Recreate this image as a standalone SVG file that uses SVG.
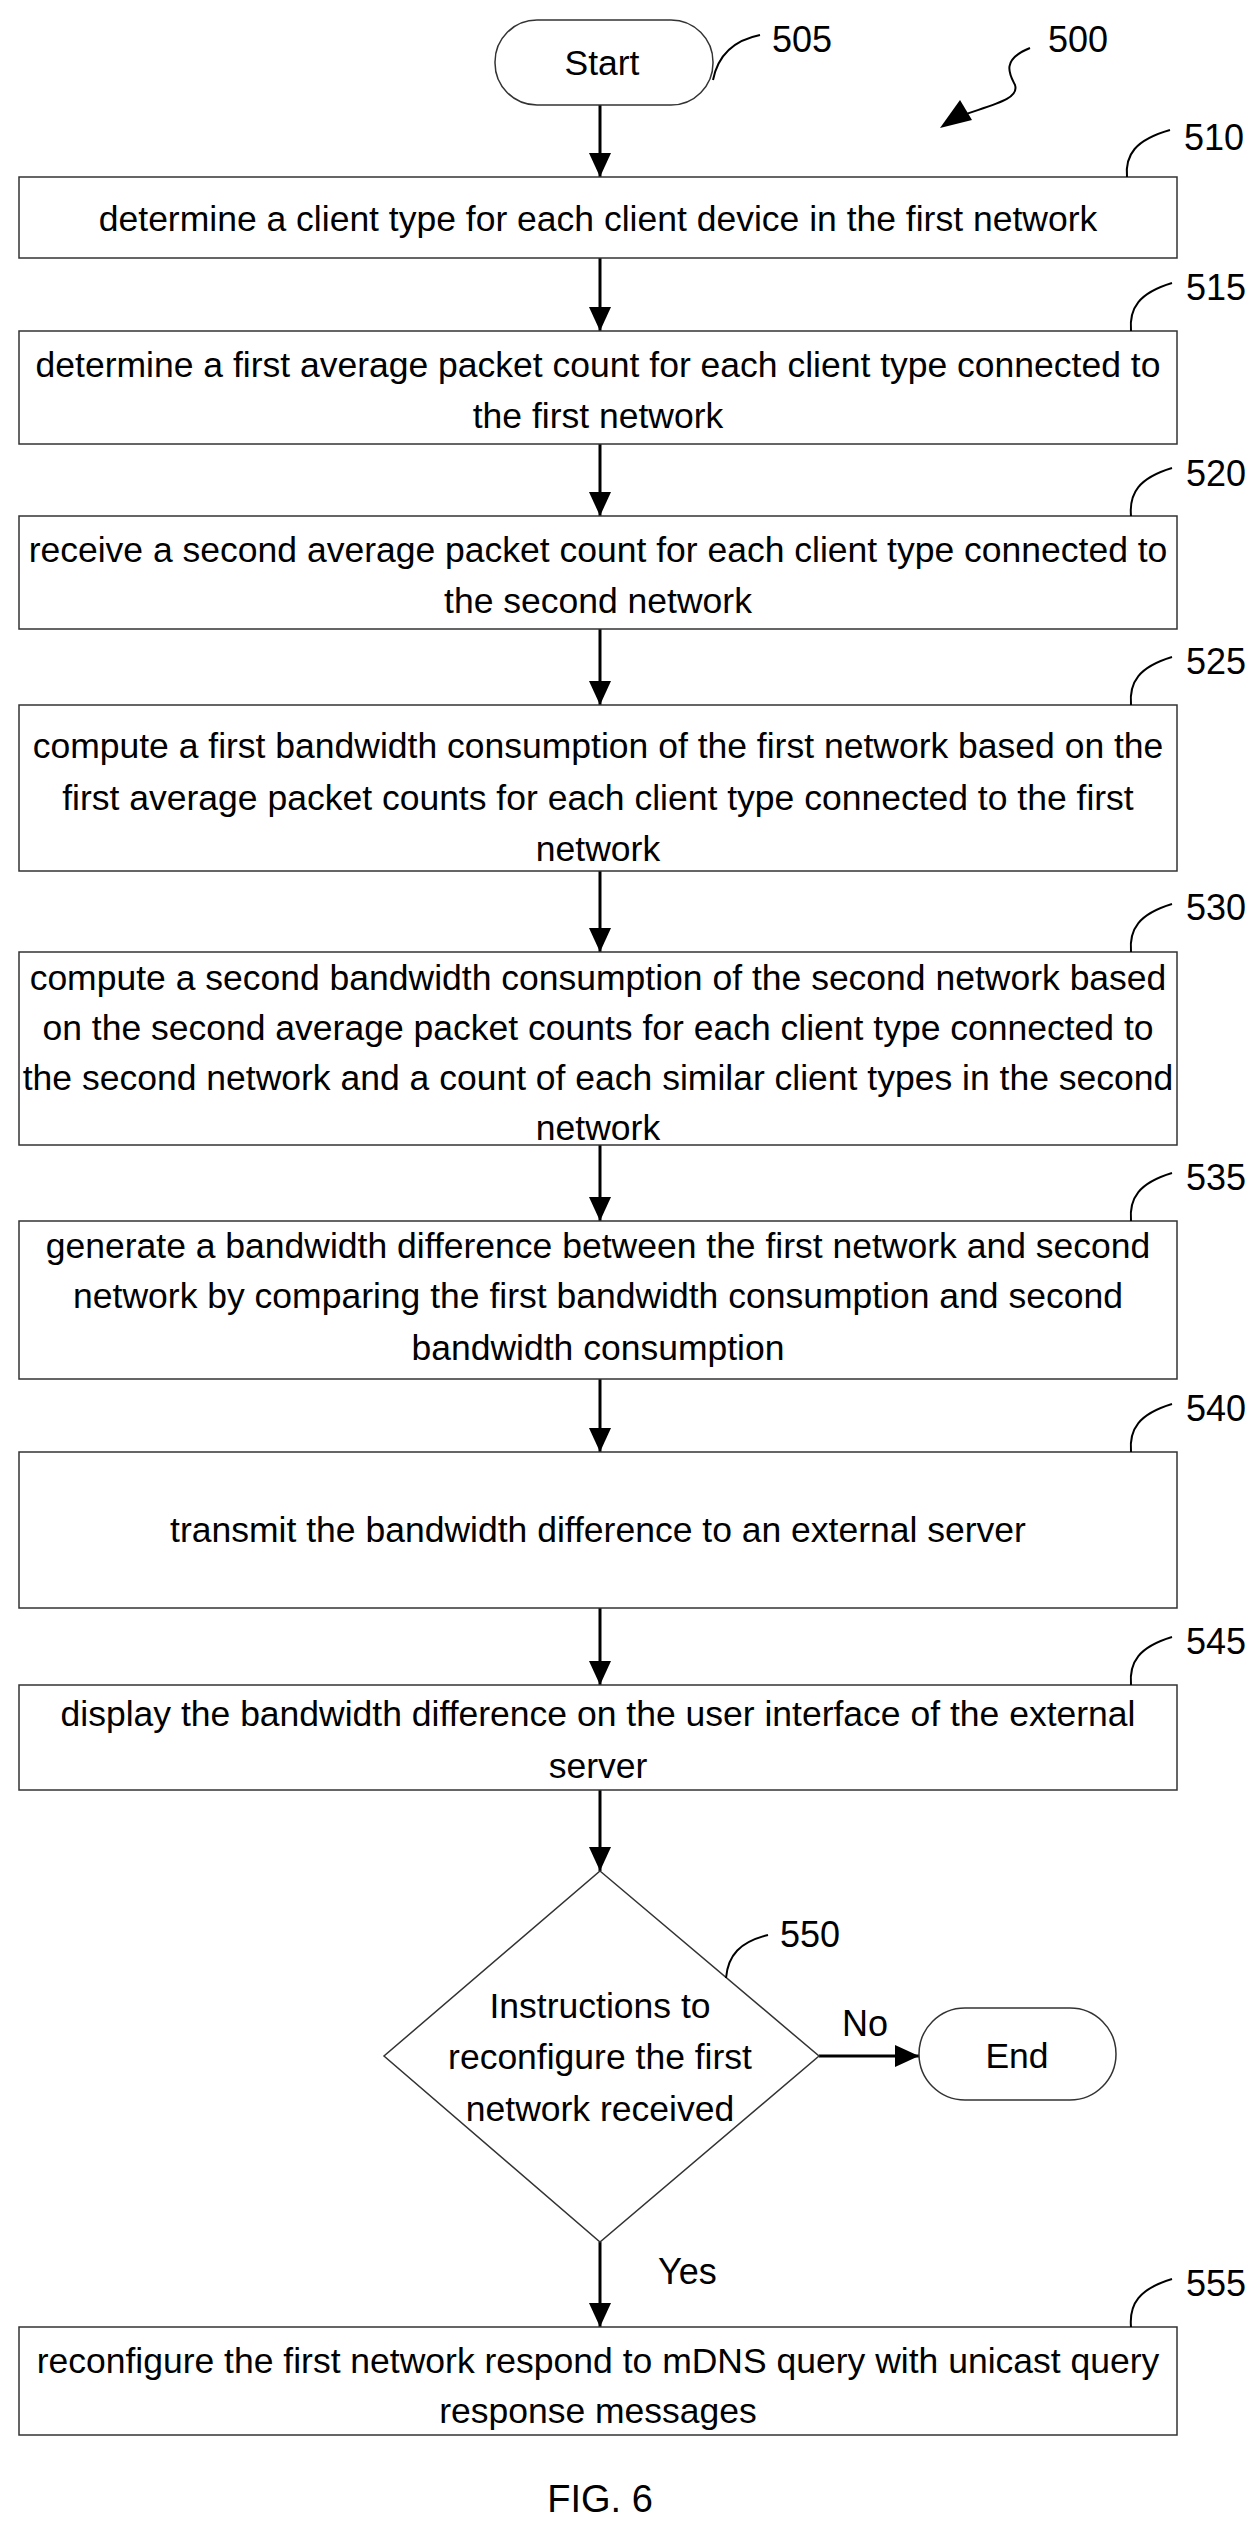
<svg xmlns="http://www.w3.org/2000/svg" width="1258" height="2532" viewBox="0 0 1258 2532">
<style>
.b{fill:#fff;stroke:#333;stroke-width:1.5}
.t{font-family:"Liberation Sans",Arial,sans-serif;font-size:35.5px;fill:#000;text-anchor:middle}
.n{font-family:"Liberation Sans",Arial,sans-serif;font-size:36px;fill:#000}
.c{fill:none;stroke:#000;stroke-width:3}
.l{fill:none;stroke:#000;stroke-width:2}
</style>
<defs>
<marker id="A" markerWidth="24" markerHeight="22" refX="24" refY="11" orient="auto" markerUnits="userSpaceOnUse"><path d="M0,0L24,11L0,22z"/></marker></defs>
<rect width="1258" height="2532" fill="#fff"/>
<g id="connectors">
<path class="c" d="M600,105V177" marker-end="url(#A)"/>
<path class="c" d="M600,258V331" marker-end="url(#A)"/>
<path class="c" d="M600,444V516" marker-end="url(#A)"/>
<path class="c" d="M600,629V705" marker-end="url(#A)"/>
<path class="c" d="M600,871V952" marker-end="url(#A)"/>
<path class="c" d="M600,1145V1221" marker-end="url(#A)"/>
<path class="c" d="M600,1379V1452" marker-end="url(#A)"/>
<path class="c" d="M600,1608V1685" marker-end="url(#A)"/>
<path class="c" d="M600,1790V1871" marker-end="url(#A)"/>
<path class="c" d="M819,2056H919" marker-end="url(#A)"/>
<path class="c" d="M600,2242V2327" marker-end="url(#A)"/>
<text class="n" x="842" y="2036">No</text>
<text class="n" x="658" y="2284">Yes</text>
</g>
<g id="n500"><path class="l" d="M1030,48C1000,60 1010,75 1015,85C1020,100 990,105 955,118"/><path d="M940,128L960,100L972,120z"/><text class="n" x="1048" y="52">500</text></g>
<g id="n505"><rect class="b" x="495" y="20" width="218" height="85" rx="42"/><text class="t" x="602" y="75">Start</text><path class="l" d="M713,80C718,55 735,40 760,35"/><text class="n" x="772" y="52">505</text></g>
<g id="n510"><rect class="b" x="19" y="177" width="1158" height="81"/><text class="t" x="598" y="231">determine a client type for each client device in the first network</text><path class="l" d="M1127,177C1125,155 1135,140 1170,130"/><text class="n" x="1184" y="150">510</text></g>
<g id="n515"><rect class="b" x="19" y="331" width="1158" height="113"/><text class="t" x="598" y="377">determine a first average packet count for each client type connected to</text><text class="t" x="598" y="428">the first network</text><path class="l" d="M1131,331C1129,308 1139,293 1172,283"/><text class="n" x="1186" y="300">515</text></g>
<g id="n520"><rect class="b" x="19" y="516" width="1158" height="113"/><text class="t" x="598" y="562">receive a second average packet count for each client type connected to</text><text class="t" x="598" y="613">the second network</text><path class="l" d="M1131,516C1129,493 1139,478 1172,468"/><text class="n" x="1186" y="486">520</text></g>
<g id="n525"><rect class="b" x="19" y="705" width="1158" height="166"/><text class="t" x="598" y="758">compute a first bandwidth consumption of the first network based on the</text><text class="t" x="598" y="810">first average packet counts for each client type connected to the first</text><text class="t" x="598" y="861">network</text><path class="l" d="M1131,705C1129,682 1139,667 1172,657"/><text class="n" x="1186" y="674">525</text></g>
<g id="n530"><rect class="b" x="19" y="952" width="1158" height="193"/><text class="t" x="598" y="990">compute a second bandwidth consumption of the second network based</text><text class="t" x="598" y="1040">on the second average packet counts for each client type connected to</text><text class="t" x="598" y="1090">the second network and a count of each similar client types in the second</text><text class="t" x="598" y="1140">network</text><path class="l" d="M1131,952C1129,929 1139,914 1172,904"/><text class="n" x="1186" y="920">530</text></g>
<g id="n535"><rect class="b" x="19" y="1221" width="1158" height="158"/><text class="t" x="598" y="1258">generate a bandwidth difference between the first network and second</text><text class="t" x="598" y="1308">network by comparing the first bandwidth consumption and second</text><text class="t" x="598" y="1360">bandwidth consumption</text><path class="l" d="M1131,1221C1129,1198 1139,1183 1172,1173"/><text class="n" x="1186" y="1190">535</text></g>
<g id="n540"><rect class="b" x="19" y="1452" width="1158" height="156"/><text class="t" x="598" y="1542">transmit the bandwidth difference to an external server</text><path class="l" d="M1131,1452C1129,1429 1139,1414 1172,1404"/><text class="n" x="1186" y="1421">540</text></g>
<g id="n545"><rect class="b" x="19" y="1685" width="1158" height="105"/><text class="t" x="598" y="1726">display the bandwidth difference on the user interface of the external</text><text class="t" x="598" y="1778">server</text><path class="l" d="M1131,1685C1129,1662 1139,1647 1172,1637"/><text class="n" x="1186" y="1654">545</text></g>
<g id="n550"><path class="b" d="M600,1871L819,2056L600,2242L384,2056z"/><text class="t" x="600" y="2018">Instructions to</text><text class="t" x="600" y="2069">reconfigure the first</text><text class="t" x="600" y="2121">network received</text><path class="l" d="M726,1978C728,1955 740,1942 768,1935"/><text class="n" x="780" y="1947">550</text></g>
<g id="nEnd"><rect class="b" x="919" y="2008" width="197" height="92" rx="46"/><text class="t" x="1017" y="2068">End</text></g>
<g id="n555"><rect class="b" x="19" y="2327" width="1158" height="108"/><text class="t" x="598" y="2373">reconfigure the first network respond to mDNS query with unicast query</text><text class="t" x="598" y="2423">response messages</text><path class="l" d="M1131,2327C1129,2304 1139,2289 1172,2279"/><text class="n" x="1186" y="2296">555</text></g>
<text class="t" x="600" y="2512" style="font-size:38px">FIG. 6</text>
</svg>
